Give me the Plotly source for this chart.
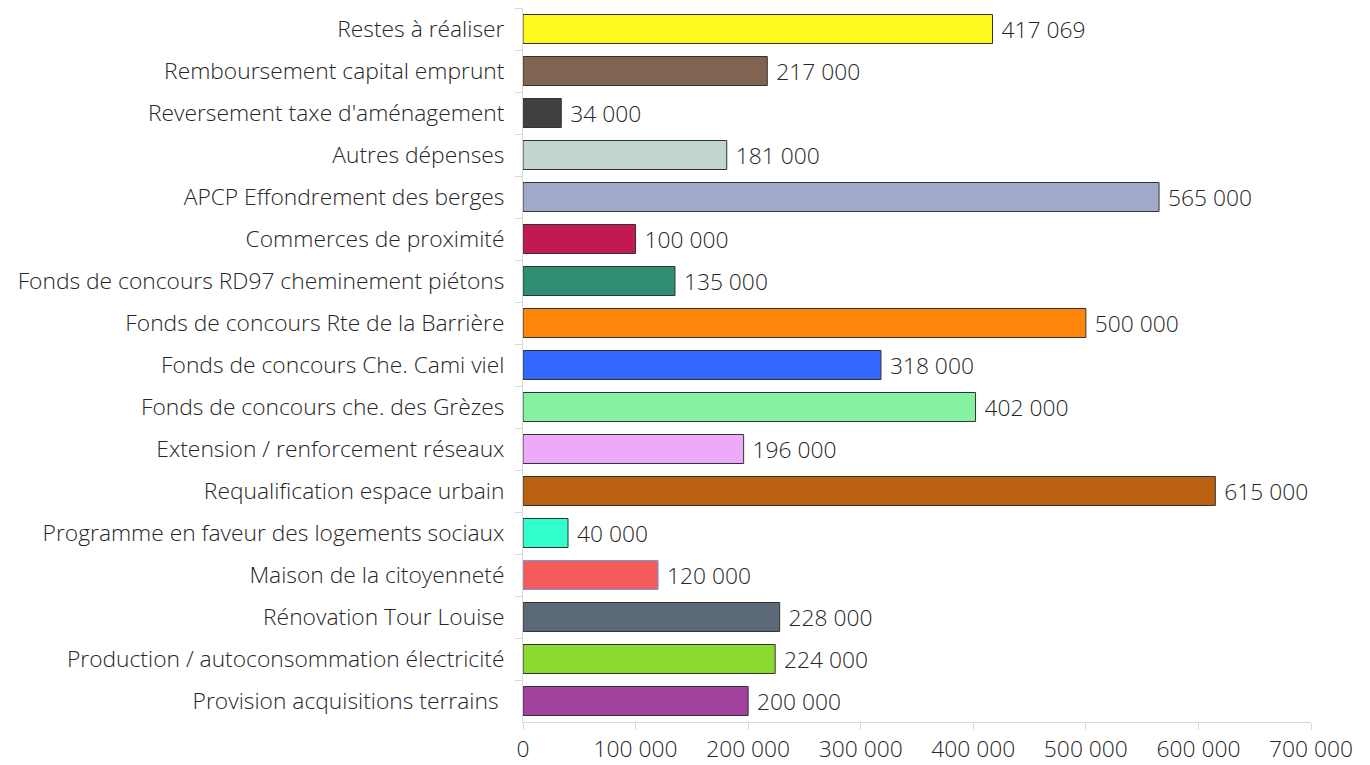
import plotly.graph_objects as go

categories = [
    "Restes à réaliser",
    "Remboursement capital emprunt",
    "Reversement taxe d'aménagement",
    "Autres dépenses",
    "APCP Effondrement des berges",
    "Commerces de proximité",
    "Fonds de concours RD97 cheminement piétons",
    "Fonds de concours Rte de la Barrière",
    "Fonds de concours Che. Cami viel",
    "Fonds de concours che. des Grèzes",
    "Extension / renforcement réseaux",
    "Requalification espace urbain",
    "Programme en faveur des logements sociaux",
    "Maison de la citoyenneté",
    "Rénovation Tour Louise",
    "Production / autoconsommation électricité",
    "Provision acquisitions terrains ",
]
values = [417069, 217000, 34000, 181000, 565000, 100000, 135000, 500000,
          318000, 402000, 196000, 615000, 40000, 120000, 228000, 224000, 200000]
colors = ["#FFF81C", "#806451", "#404040", "#C3D5D1", "#A2AACB", "#C21A50",
          "#2E8F75", "#FF860D", "#3366FF", "#85F2A1", "#EEAAFA", "#BA6211",
          "#33FFCC", "#F55B5B", "#5A6878", "#8CD932", "#A0429E"]
outline = ["#333333"] * len(values)
outline[13] = "#6F9FD8"
x_ticks = [0, 100000, 200000, 300000, 400000, 500000, 600000, 700000]

FONT = "Open Sans"
FS = 22.8
TXT = "#262626"

fig = go.Figure(go.Bar(
    y=categories, x=values, orientation="h",
    marker=dict(color=colors, line=dict(color=outline, width=1)),
    texttemplate=" %{x:,}", textposition="outside", constraintext="none",
    textfont=dict(family=FONT, size=FS, color=TXT, weight=300),
    cliponaxis=False,
))

fig.update_layout(
    width=1362, height=757,
    margin=dict(l=515, r=59, t=0, b=43, autoexpand=False),
    paper_bgcolor="white", plot_bgcolor="white",
    separators=", ",
    bargap=0.31,
    showlegend=False,
    font=dict(family=FONT, size=FS, color=TXT, weight=300),
)
fig.update_xaxes(
    range=[0, 700000], tickvals=x_ticks, tickformat=",",
    showgrid=False, zeroline=False,
    showline=True, linecolor="#D9D9D9", linewidth=1,
    ticks="outside", ticklen=7, tickcolor="#D9D9D9",
    ticklabelstandoff=0,
    tickfont=dict(family=FONT, size=FS, color=TXT, weight=300),
)
fig.update_yaxes(
    autorange="reversed", type="category",
    showgrid=False, zeroline=False,
    showline=True, linecolor="#D9D9D9", linewidth=1,
    ticks="outside", ticklen=7, tickcolor="#D9D9D9", tickson="boundaries",
    ticklabelstandoff=13,
    tickfont=dict(family=FONT, size=FS, color=TXT, weight=300),
)

fig.write_html("out.html")
